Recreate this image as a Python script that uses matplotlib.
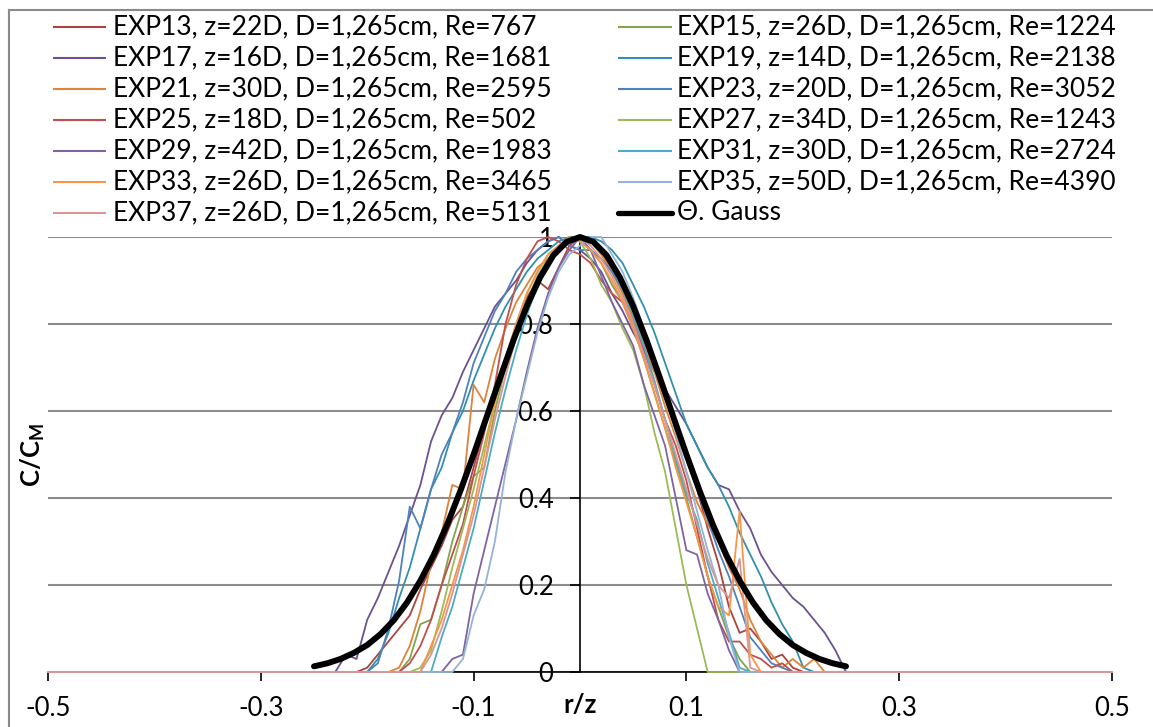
import matplotlib
matplotlib.use('Agg')
import matplotlib.pyplot as plt
from matplotlib.lines import Line2D

# ---------------- data ----------------
R_Z = [-0.25, -0.24, -0.23, -0.22, -0.21, -0.20, -0.19, -0.18, -0.17, -0.16,
       -0.15, -0.14, -0.13, -0.12, -0.11, -0.10, -0.09, -0.08, -0.07, -0.06,
       -0.05, -0.04, -0.03, -0.02, -0.01, 0.00, 0.01, 0.02, 0.03, 0.04,
       0.05, 0.06, 0.07, 0.08, 0.09, 0.10, 0.11, 0.12, 0.13, 0.14,
       0.15, 0.16, 0.17, 0.18, 0.19, 0.20, 0.21, 0.22, 0.23, 0.24, 0.25]
EDGE_X = [-0.5, 0.5]
EDGE_Y = [0.0, 0.0]

EXP13 = [0, 0, 0, 0, 0, 0.01, 0.04, 0.07, 0.10, 0.13, 0.19, 0.24, 0.29, 0.35, 0.38,
         0.47, 0.56, 0.64, 0.71, 0.79, 0.86, 0.90, 0.88, 0.93, 0.98,
         1.00,
         0.99, 0.96, 0.93, 0.88, 0.82, 0.76, 0.70, 0.63, 0.57, 0.50, 0.42, 0.33, 0.25, 0.15,
         0.09, 0.10, 0.07, 0.03, 0.04, 0.01, 0, 0, 0, 0, 0]
EXP15 = [0, 0, 0, 0, 0, 0, 0, 0, 0, 0.03, 0.11, 0.12, 0.20, 0.30, 0.38, 0.45, 0.47,
         0.60, 0.70, 0.78, 0.85, 0.91, 0.95, 0.98, 1.00,
         0.99,
         0.97, 0.94, 0.89, 0.85, 0.79, 0.72, 0.64, 0.56, 0.48, 0.40, 0.31, 0.22, 0.15, 0.08,
         0.03, 0, 0, 0, 0, 0, 0, 0, 0, 0, 0]
EXP17 = [0, 0, 0, 0.04, 0.03, 0.12, 0.17, 0.23, 0.29, 0.36, 0.43, 0.53, 0.59, 0.63, 0.69,
         0.74, 0.79, 0.84, 0.87, 0.90, 0.94, 0.97, 0.99, 1.00, 0.98,
         0.97,
         0.95, 0.92, 0.87, 0.83, 0.78, 0.74, 0.69, 0.65, 0.61, 0.57, 0.52, 0.47, 0.43, 0.42,
         0.37, 0.33, 0.27, 0.23, 0.20, 0.17, 0.15, 0.12, 0.09, 0.05, 0]
EXP19 = [0, 0, 0, 0, 0, 0, 0.03, 0.09, 0.17, 0.24, 0.33, 0.42, 0.47, 0.55, 0.60, 0.67,
         0.73, 0.79, 0.84, 0.88, 0.92, 0.95, 0.97, 0.99, 1.00,
         1.00,
         1.00, 0.99, 0.97, 0.94, 0.89, 0.84, 0.78, 0.71, 0.64, 0.57, 0.52, 0.47, 0.43, 0.38,
         0.32, 0.27, 0.22, 0.16, 0.11, 0.07, 0.01, 0, 0, 0, 0]
EXP21 = [0, 0, 0, 0, 0, 0, 0, 0, 0.01, 0.06, 0.14, 0.25, 0.32, 0.43, 0.42, 0.66, 0.62,
         0.72, 0.79, 0.85, 0.89, 0.93, 0.95, 0.97, 0.99,
         1.00,
         0.99, 0.96, 0.92, 0.87, 0.81, 0.75, 0.69, 0.61, 0.54, 0.46, 0.39, 0.34, 0.30, 0.24,
         0.19, 0.12, 0.07, 0.04, 0.01, 0.03, 0.01, 0.03, 0, 0, 0]
EXP23 = [0, 0, 0, 0, 0, 0, 0.02, 0.10, 0.21, 0.38, 0.33, 0.42, 0.50, 0.55, 0.62, 0.71,
         0.77, 0.83, 0.87, 0.92, 0.95, 0.97, 0.99, 1.00, 0.98,
         0.97,
         0.97, 0.95, 0.92, 0.88, 0.83, 0.77, 0.71, 0.64, 0.56, 0.49, 0.42, 0.35, 0.28, 0.22,
         0.15, 0.08, 0.05, 0.02, 0.01, 0, 0, 0, 0, 0, 0]
EXP25 = [0, 0, 0, 0, 0, 0, 0, 0, 0, 0.02, 0.06, 0.12, 0.20, 0.27, 0.34, 0.45, 0.55,
         0.66, 0.80, 0.89, 0.95, 0.99, 1.00, 0.99, 0.97,
         0.96,
         0.94, 0.90, 0.87, 0.85, 0.80, 0.74, 0.66, 0.58, 0.52, 0.44, 0.33, 0.22, 0.12, 0.07,
         0.07, 0.04, 0.03, 0.01, 0.02, 0, 0, 0, 0, 0, 0]
EXP27 = [0, 0, 0, 0, 0, 0, 0, 0, 0, 0, 0.01, 0.05, 0.14, 0.24, 0.33, 0.42, 0.52,
         0.62, 0.72, 0.80, 0.87, 0.92, 0.96, 0.98, 1.00,
         0.99,
         0.95, 0.89, 0.85, 0.79, 0.74, 0.66, 0.55, 0.46, 0.33, 0.20, 0.10, 0, 0, 0,
         0, 0, 0, 0, 0, 0, 0, 0, 0, 0, 0]
EXP29 = [0, 0, 0, 0, 0, 0, 0, 0, 0, 0, 0, 0, 0, 0.03, 0.04, 0.18, 0.28,
         0.38, 0.48, 0.58, 0.69, 0.79, 0.87, 0.93, 0.97,
         1.00,
         0.97, 0.91, 0.85, 0.80, 0.75, 0.66, 0.59, 0.52, 0.40, 0.28, 0.27, 0.18, 0.12, 0.05,
         0, 0, 0, 0, 0, 0, 0, 0, 0, 0, 0]
EXP31 = [0, 0, 0, 0, 0, 0, 0, 0, 0, 0, 0, 0, 0.08, 0.15, 0.24, 0.33, 0.44,
         0.55, 0.65, 0.74, 0.82, 0.89, 0.94, 0.97, 0.99,
         1.00,
         0.99, 0.97, 0.93, 0.88, 0.82, 0.75, 0.67, 0.58, 0.49, 0.41, 0.35, 0.25, 0.17, 0.09,
         0.01, 0, 0, 0, 0, 0, 0, 0, 0, 0, 0]
EXP33 = [0, 0, 0, 0, 0, 0, 0, 0, 0, 0, 0, 0.06, 0.12, 0.20, 0.28, 0.38, 0.50,
         0.62, 0.72, 0.80, 0.87, 0.92, 0.96, 0.98, 1.00,
         0.99,
         0.97, 0.94, 0.90, 0.85, 0.79, 0.72, 0.64, 0.56, 0.47, 0.39, 0.31, 0.22, 0.15, 0.13,
         0.37, 0.04, 0, 0, 0, 0, 0, 0, 0, 0, 0]
EXP35 = [0, 0, 0, 0, 0, 0, 0, 0, 0, 0, 0, 0, 0, 0, 0.03, 0.13, 0.19,
         0.30, 0.46, 0.58, 0.68, 0.78, 0.86, 0.92, 0.96,
         0.98,
         1.00, 1.00, 0.96, 0.92, 0.86, 0.79, 0.72, 0.64, 0.55, 0.46, 0.37, 0.28, 0.20, 0.08,
         0, 0, 0, 0, 0, 0, 0, 0, 0, 0, 0]
EXP37 = [0, 0, 0, 0, 0, 0, 0, 0, 0, 0, 0, 0.04, 0.10, 0.18, 0.27, 0.36, 0.47,
         0.58, 0.68, 0.77, 0.84, 0.90, 0.94, 0.97, 0.99,
         1.00,
         0.98, 0.95, 0.91, 0.86, 0.80, 0.73, 0.66, 0.58, 0.50, 0.42, 0.34, 0.26, 0.20, 0.17,
         0.26, 0.01, 0, 0, 0, 0, 0, 0, 0, 0, 0]

GAUSS_X = [-0.25, -0.2375, -0.225, -0.2125, -0.2, -0.1875, -0.175, -0.1625, -0.15, -0.1375,
           -0.125, -0.1125, -0.1, -0.0875, -0.075, -0.0625, -0.05, -0.0375, -0.025, -0.0125,
           0.0, 0.0125, 0.025, 0.0375, 0.05, 0.0625, 0.075, 0.0875, 0.1, 0.1125,
           0.125, 0.1375, 0.15, 0.1625, 0.175, 0.1875, 0.2, 0.2125, 0.225, 0.2375, 0.25]
GAUSS_Y = [0.013, 0.020, 0.030, 0.044, 0.062, 0.087, 0.119, 0.160, 0.210, 0.269,
           0.338, 0.416, 0.500, 0.588, 0.677, 0.763, 0.841, 0.907, 0.958, 0.989,
           1.000, 0.989, 0.958, 0.907, 0.841, 0.763, 0.677, 0.588, 0.500, 0.416,
           0.338, 0.269, 0.210, 0.160, 0.119, 0.087, 0.062, 0.044, 0.030, 0.020, 0.013]

SERIES = [
    ("EXP13, z=22D, D=1,265cm, Re=767", EXP13, "#A9443F"),
    ("EXP15, z=26D, D=1,265cm, Re=1224", EXP15, "#86A34E"),
    ("EXP17, z=16D, D=1,265cm, Re=1681", EXP17, "#6C5190"),
    ("EXP19, z=14D, D=1,265cm, Re=2138", EXP19, "#3290AC"),
    ("EXP21, z=30D, D=1,265cm, Re=2595", EXP21, "#DC843A"),
    ("EXP23, z=20D, D=1,265cm, Re=3052", EXP23, "#4F81BD"),
    ("EXP25, z=18D, D=1,265cm, Re=502", EXP25, "#C0504D"),
    ("EXP27, z=34D, D=1,265cm, Re=1243", EXP27, "#9BBB59"),
    ("EXP29, z=42D, D=1,265cm, Re=1983", EXP29, "#8064A2"),
    ("EXP31, z=30D, D=1,265cm, Re=2724", EXP31, "#4BACC6"),
    ("EXP33, z=26D, D=1,265cm, Re=3465", EXP33, "#F79646"),
    ("EXP35, z=50D, D=1,265cm, Re=4390", EXP35, "#95B3D7"),
    ("EXP37, z=26D, D=1,265cm, Re=5131", EXP37, "#D99694"),
]
GAUSS_LABEL = "\u0398. Gauss"

X_TICKS = [-0.5, -0.3, -0.1, 0.1, 0.3, 0.5]
X_TICKLABELS = ["-0.5", "-0.3", "-0.1", "0.1", "0.3", "0.5"]
Y_TICKS = [0.0, 0.2, 0.4, 0.6, 0.8, 1.0]
Y_TICKLABELS = ["0", "0.2", "0.4", "0.6", "0.8", "1"]

# ---------------- style ----------------
plt.rcParams['font.family'] = ['Lato', 'DejaVu Sans']
plt.rcParams['mathtext.fontset'] = 'custom'
plt.rcParams['mathtext.rm'] = 'Lato'
plt.rcParams['mathtext.bf'] = 'Lato:bold'

W, H = 1153, 727
fig = plt.figure(figsize=(W / 100, H / 100), dpi=100)
fig.patch.set_facecolor('white')

def fx(px):
    return px / W

def fy(py):
    return 1 - py / H

ax = fig.add_axes([fx(48), fy(672), fx(1112) - fx(48), fy(237) - fy(672)])
ax.set_xlim(-0.5, 0.5)
ax.set_ylim(0, 1)

GRID = '#8C8C8C'
ax.set_axisbelow(True)
ax.yaxis.grid(True, color=GRID, lw=1.5)
ax.xaxis.grid(False)

for name, vals, col in SERIES:
    xs = [EDGE_X[0]] + R_Z + [EDGE_X[1]]
    ys = [EDGE_Y[0]] + vals + [EDGE_Y[1]]
    ax.plot(xs, ys, color=col, lw=1.3, clip_on=False, zorder=3)

ax.plot(GAUSS_X, GAUSS_Y, color='black', lw=4.3, solid_capstyle='round',
        clip_on=False, zorder=4)

for s in ['top', 'right']:
    ax.spines[s].set_visible(False)
ax.spines['left'].set_position(('data', 0))
ax.spines['left'].set_color('black')
ax.spines['left'].set_linewidth(1.2)
ax.spines['left'].set_zorder(2)
ax.spines['bottom'].set_color('black')
ax.spines['bottom'].set_linewidth(1.2)

ax.set_xticks(X_TICKS)
ax.set_xticklabels(X_TICKLABELS)
ax.set_yticks(Y_TICKS)
ax.set_yticklabels(Y_TICKLABELS)
ax.tick_params(axis='x', direction='out', length=6.5, width=1.2, pad=11, labelsize=18.5)
ax.tick_params(axis='y', direction='out', length=7, width=1.2, pad=12, labelsize=18.5)

# axis titles
fig.text(fx(580), fy(705), 'r/z', ha='center', va='center', fontsize=18.5,
         fontweight='bold')
fig.text(fx(33), fy(455), r'$\mathbf{C/C_M}$', ha='center', va='center',
         rotation=90, fontsize=18.5)

# chart border (left and top edges visible)
fig.add_artist(Line2D([fx(9), fx(9)], [0, fy(10)], color='#8A8A8A', lw=1.5))
fig.add_artist(Line2D([fx(9), 1], [fy(10), fy(10)], color='#8A8A8A', lw=1.5))

# legend (two columns, row-major order as in the source)
entries = [(n, c, 1.5) for n, v, c in SERIES] + [(GAUSS_LABEL, 'black', 3.8)]
cols = [(53, 106, 113), (618, 672, 677)]
for i, (label, col, lw) in enumerate(entries):
    r, c = divmod(i, 2)
    y = fy(27 + 31 * r)
    x0, x1, xt = cols[c]
    fig.add_artist(Line2D([fx(x0), fx(x1)], [y, y], color=col, lw=lw,
                          solid_capstyle='round' if lw > 2 else 'butt'))
    fig.text(fx(xt), y, label, ha='left', va='center', fontsize=19)

fig.savefig('out.png', dpi=100)
